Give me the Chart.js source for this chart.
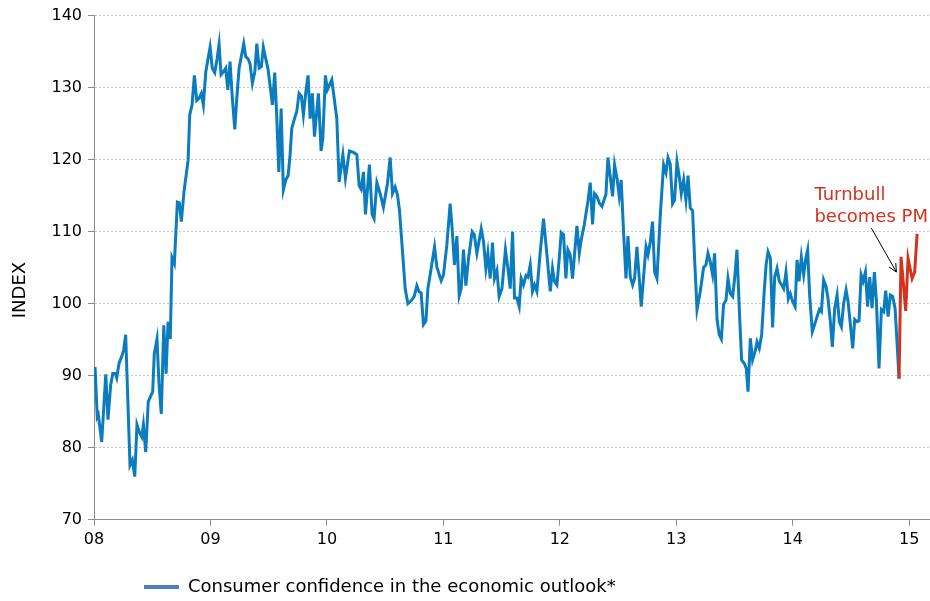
<!DOCTYPE html>
<html>
<head>
<meta charset="utf-8">
<script src="https://cdn.jsdelivr.net/npm/chart.js@4"></script>
<style>
  html, body { margin: 0; padding: 0; background: #fff; }
</style>
</head>
<body>
<canvas id="myChart" width="930" height="601"></canvas>
<script>
// weekly readings, x as decimal year
const dates = [
  2008.009, 2008.028, 2008.037, 2008.066, 2008.101, 2008.120, 2008.143, 2008.161, 2008.183, 2008.195,
  2008.215, 2008.243, 2008.255, 2008.272, 2008.309, 2008.329, 2008.350, 2008.369, 2008.389, 2008.410,
  2008.424, 2008.444, 2008.466, 2008.504, 2008.518, 2008.541, 2008.558, 2008.578, 2008.599, 2008.619,
  2008.636, 2008.655, 2008.670, 2008.690, 2008.716, 2008.733, 2008.750, 2008.773, 2008.808, 2008.822,
  2008.842, 2008.862, 2008.882, 2008.902, 2008.922, 2008.939, 2008.960, 2008.979, 2008.997, 2009.016,
  2009.037, 2009.057, 2009.074, 2009.091, 2009.111, 2009.131, 2009.149, 2009.168, 2009.188, 2009.209,
  2009.226, 2009.246, 2009.265, 2009.286, 2009.303, 2009.323, 2009.340, 2009.360, 2009.381, 2009.398,
  2009.418, 2009.437, 2009.454, 2009.475, 2009.495, 2009.515, 2009.532, 2009.552, 2009.570, 2009.587,
  2009.607, 2009.626, 2009.647, 2009.667, 2009.684, 2009.698, 2009.718, 2009.741, 2009.761, 2009.781,
  2009.798, 2009.819, 2009.838, 2009.856, 2009.875, 2009.893, 2009.927, 2009.950, 2009.965, 2009.987,
  2010.004, 2010.042, 2010.085, 2010.105, 2010.137, 2010.159, 2010.193, 2010.228, 2010.257, 2010.277,
  2010.294, 2010.314, 2010.331, 2010.365, 2010.388, 2010.405, 2010.429, 2010.457, 2010.485, 2010.520,
  2010.543, 2010.563, 2010.586, 2010.606, 2010.623, 2010.643, 2010.672, 2010.695, 2010.723, 2010.749,
  2010.772, 2010.790, 2010.809, 2010.829, 2010.850, 2010.867, 2010.895, 2010.924, 2010.944, 2010.981,
  2011.001, 2011.030, 2011.058, 2011.076, 2011.095, 2011.116, 2011.136, 2011.153, 2011.173, 2011.193,
  2011.216, 2011.247, 2011.265, 2011.288, 2011.325, 2011.345, 2011.365, 2011.382, 2011.402, 2011.422,
  2011.439, 2011.460, 2011.479, 2011.503, 2011.533, 2011.554, 2011.574, 2011.594, 2011.611, 2011.631,
  2011.651, 2011.668, 2011.688, 2011.709, 2011.726, 2011.746, 2011.765, 2011.783, 2011.803, 2011.832,
  2011.860, 2011.889, 2011.918, 2011.937, 2011.954, 2011.975, 2011.995, 2012.012, 2012.032, 2012.052,
  2012.069, 2012.089, 2012.109, 2012.126, 2012.147, 2012.167, 2012.184, 2012.210, 2012.241, 2012.261,
  2012.281, 2012.298, 2012.319, 2012.341, 2012.362, 2012.396, 2012.413, 2012.433, 2012.453, 2012.470,
  2012.491, 2012.510, 2012.527, 2012.547, 2012.568, 2012.585, 2012.605, 2012.625, 2012.642, 2012.662,
  2012.682, 2012.699, 2012.719, 2012.740, 2012.757, 2012.777, 2012.796, 2012.814, 2012.834, 2012.863,
  2012.891, 2012.912, 2012.929, 2012.948, 2012.968, 2012.985, 2013.006, 2013.026, 2013.043, 2013.063,
  2013.083, 2013.101, 2013.120, 2013.140, 2013.157, 2013.178, 2013.206, 2013.234, 2013.255, 2013.272,
  2013.292, 2013.312, 2013.329, 2013.350, 2013.369, 2013.387, 2013.406, 2013.427, 2013.444, 2013.464,
  2013.484, 2013.501, 2013.521, 2013.541, 2013.561, 2013.584, 2013.601, 2013.616, 2013.636, 2013.655,
  2013.676, 2013.693, 2013.713, 2013.733, 2013.753, 2013.771, 2013.788, 2013.808, 2013.827, 2013.845,
  2013.865, 2013.885, 2013.905, 2013.922, 2013.942, 2013.962, 2013.979, 2013.999, 2014.020, 2014.037,
  2014.054, 2014.074, 2014.094, 2014.114, 2014.128, 2014.145, 2014.168, 2014.188, 2014.209, 2014.229,
  2014.246, 2014.265, 2014.286, 2014.303, 2014.323, 2014.340, 2014.360, 2014.381, 2014.400, 2014.418,
  2014.437, 2014.458, 2014.475, 2014.495, 2014.515, 2014.532, 2014.552, 2014.569, 2014.587, 2014.604,
  2014.624, 2014.643, 2014.661, 2014.681, 2014.701, 2014.718, 2014.741, 2014.761, 2014.781, 2014.798,
  2014.819, 2014.838, 2014.858, 2014.879, 2014.913,
  2014.930, 2014.970, 2014.990, 2015.025, 2015.047, 2015.068
];
const values = [
  91.2, 84.3, 84.6, 80.8, 90.2, 83.9, 88.7, 90.3, 90.3, 89.7,
  91.7, 92.9, 93.6, 95.7, 77.6, 78.3, 76.0, 83.2, 82.2, 81.5,
  83.2, 79.4, 86.4, 87.8, 93.1, 95.1, 88.9, 84.7, 97.0, 90.3,
  97.5, 95.1, 106.4, 105.6, 114.1, 114.0, 111.4, 115.6, 119.9, 126.2,
  127.6, 131.7, 128.2, 128.5, 129.2, 127.6, 132.2, 134.0, 135.6, 132.7,
  132.1, 134.0, 136.0, 131.8, 132.2, 132.7, 129.7, 133.6, 128.5, 124.2,
  128.5, 132.7, 134.3, 136.1, 134.3, 134.0, 133.3, 130.6, 132.2, 136.1,
  132.7, 132.9, 135.6, 134.0, 132.5, 129.9, 127.6, 132.1, 125.7, 118.3,
  127.1, 115.8, 117.2, 117.8, 120.7, 124.3, 125.5, 126.7, 129.2, 128.8,
  126.2, 129.4, 131.7, 125.7, 129.2, 123.2, 129.2, 121.2, 123.0, 131.7,
  129.7, 131.1, 125.7, 116.9, 120.7, 117.4, 121.2, 121.0, 120.7, 116.4,
  115.9, 118.3, 112.4, 119.3, 112.4, 111.8, 116.8, 115.3, 113.4, 116.7,
  120.3, 115.3, 116.2, 115.1, 113.0, 108.6, 102.1, 100.0, 100.4, 101.0,
  102.5, 101.7, 101.5, 97.1, 97.6, 102.1, 104.9, 107.9, 105.1, 103.2,
  104.0, 108.2, 113.9, 110.3, 105.4, 109.4, 101.1, 102.1, 107.5, 102.5,
  106.3, 110.0, 109.6, 107.0, 110.4, 108.6, 104.9, 107.0, 103.5, 108.5,
  103.5, 104.6, 101.0, 102.1, 107.5, 104.9, 102.1, 110.0, 100.8, 100.8,
  99.6, 103.5, 102.6, 103.9, 103.7, 105.4, 101.7, 102.6, 101.7, 107.2,
  111.8, 106.8, 101.7, 104.9, 103.1, 102.6, 106.3, 109.9, 109.6, 103.5,
  107.5, 106.8, 103.5, 106.8, 110.8, 107.0, 108.9, 111.0, 114.2, 116.8,
  111.0, 115.3, 114.9, 113.9, 113.5, 115.2, 120.3, 117.6, 114.9, 119.3,
  117.4, 114.9, 117.2, 110.0, 103.5, 109.4, 103.7, 102.6, 103.5, 107.9,
  103.5, 99.6, 103.7, 107.9, 106.8, 108.6, 111.4, 104.4, 103.5, 112.4,
  119.3, 118.2, 120.3, 119.4, 113.9, 114.4, 119.7, 117.6, 115.3, 117.2,
  114.4, 117.8, 113.3, 112.9, 106.3, 99.2, 101.7, 105.0, 105.4, 107.0,
  105.8, 104.0, 107.0, 97.8, 95.7, 95.1, 99.9, 100.5, 103.5, 101.4,
  101.0, 103.5, 107.5, 99.3, 92.2, 91.7, 91.0, 87.8, 95.2, 92.2,
  93.3, 94.7, 93.8, 95.7, 101.2, 105.4, 107.2, 106.3, 96.7, 103.7,
  104.9, 103.1, 102.6, 102.1, 104.4, 100.7, 101.4, 100.3, 99.6, 106.1,
  103.1, 106.5, 104.0, 106.5, 107.5, 101.2, 96.1, 97.1, 98.2, 99.2,
  98.9, 103.3, 102.4, 100.7, 97.5, 94.0, 99.3, 101.2, 97.5, 96.8,
  100.0, 101.9, 100.3, 97.1, 93.8, 97.8, 97.5, 97.6, 104.0, 103.1,
  104.4, 99.6, 103.7, 99.4, 104.4, 100.5, 91.0, 99.2, 98.9, 101.8,
  98.2, 101.2, 101.0, 99.3, 89.6,
  106.5, 99.0, 106.3, 103.5, 104.4, 109.7
];
const turnbullFrom = 2014.913;   // red part of the line starts here
const yearTicks = [2008, 2009, 2010, 2011, 2012, 2013, 2014, 2015];
const yearLabels = ['08', '09', '10', '11', '12', '13', '14', '15'];

const blue = '#0b7cbd';
const red = '#d4321c';
const axisGrey = '#8c8c8c';
const font = 'DejaVu Sans';

// text and arrow for the Turnbull note, placed in data units
const noteLines = ['Turnbull', 'becomes PM'];
const noteAt = { x: 2014.186, y: 115.1 };
const arrowFrom = { x: 2014.675, y: 110.5 };
const arrowTo = { x: 2014.89, y: 104.4 };

const notePlugin = {
  id: 'note',
  afterLayout(chart) {
    // move the legend item to where the original has it
    const lg = chart.legend;
    lg.left += 135;
    lg.right += 135;
    lg.top += 5;
    lg.bottom += 5;
  },
  afterDatasetsDraw(chart) {
    const { ctx, scales: { x, y } } = chart;
    ctx.save();
    // y axis title, sits a little below the middle in the original
    ctx.save();
    ctx.translate(20, y.getPixelForValue(101.9));
    ctx.rotate(-Math.PI / 2);
    ctx.fillStyle = '#000';
    ctx.font = '18px "' + font + '"';
    ctx.textAlign = 'center';
    ctx.textBaseline = 'middle';
    ctx.fillText('INDEX', 0, 0);
    ctx.restore();

    ctx.fillStyle = red;
    ctx.font = '18px "' + font + '"';
    ctx.textBaseline = 'middle';
    const px = x.getPixelForValue(noteAt.x);
    const py = y.getPixelForValue(noteAt.y);
    noteLines.forEach((t, i) => ctx.fillText(t, px, py + i * 22));

    const x1 = x.getPixelForValue(arrowFrom.x), y1 = y.getPixelForValue(arrowFrom.y);
    const x2 = x.getPixelForValue(arrowTo.x), y2 = y.getPixelForValue(arrowTo.y);
    const ang = Math.atan2(y2 - y1, x2 - x1);
    ctx.strokeStyle = '#000';
    ctx.lineWidth = 1;
    ctx.beginPath();
    ctx.moveTo(x1, y1);
    ctx.lineTo(x2, y2);
    ctx.moveTo(x2 - 9 * Math.cos(ang - 0.45), y2 - 9 * Math.sin(ang - 0.45));
    ctx.lineTo(x2, y2);
    ctx.lineTo(x2 - 9 * Math.cos(ang + 0.45), y2 - 9 * Math.sin(ang + 0.45));
    ctx.stroke();
    ctx.restore();
  }
};

const ctx = document.getElementById('myChart').getContext('2d');

new Chart(ctx, {
  type: 'line',
  data: {
    datasets: [{
      label: 'Consumer confidence in the economic outlook*',
      data: dates.map((d, i) => ({ x: d, y: values[i] })),
      borderColor: blue,
      borderWidth: 3,
      pointRadius: 0,
      tension: 0,
      segment: {
        borderColor: c => (c.p0.parsed.x >= turnbullFrom - 1e-6 ? red : blue)
      }
    }]
  },
  options: {
    responsive: false,
    animation: false,
    layout: { padding: { top: 14, right: 1, left: 0, bottom: 0 } },
    plugins: {
      tooltip: { enabled: false },
      legend: {
        position: 'bottom',
        align: 'start',
        labels: {
          boxWidth: 35,
          boxHeight: 4,
          padding: 9,
          color: '#000',
          font: { family: font, size: 18 },
          generateLabels: () => [{
            text: 'Consumer confidence in the economic outlook*',
            fillStyle: '#4a7fc1',
            strokeStyle: '#4a7fc1',
            lineWidth: 0
          }]
        }
      }
    },
    scales: {
      x: {
        type: 'linear',
        min: 2008,
        max: 2015.17,
        afterBuildTicks: s => { s.ticks = yearTicks.map(v => ({ value: v })); },
        afterFit: s => { s.height += 11; },
        ticks: {
          color: '#000',
          padding: 4,
          maxRotation: 0,
          font: { family: font, size: 16 },
          callback: v => yearLabels[yearTicks.indexOf(v)]
        },
        grid: {
          drawOnChartArea: false,
          drawTicks: true,
          tickLength: 6,
          tickColor: axisGrey
        },
        border: { color: axisGrey, width: 1 }
      },
      y: {
        min: 70,
        max: 140,
        afterFit: s => { s.width = 94; },
        ticks: {
          stepSize: 10,
          color: '#000',
          padding: 6,
          font: { family: font, size: 16 }
        },
        grid: {
          color: '#bccbd6',
          tickColor: axisGrey,
          tickLength: 6,
          tickBorderDash: []
        },
        border: { color: axisGrey, width: 1, dash: [2, 2] }
      }
    }
  },
  plugins: [notePlugin]
});
</script>
</body>
</html>
